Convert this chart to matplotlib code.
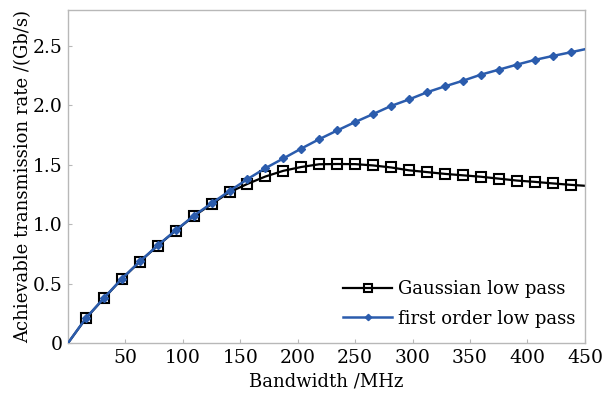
import numpy as np
import matplotlib
matplotlib.use("Agg")
import matplotlib.pyplot as plt
from matplotlib.ticker import FuncFormatter

# bandwidth sample points (MHz), line runs from 0 to 450
bandwidth = [0, 15.625, 31.25, 46.875, 62.5, 78.125, 93.75, 109.375, 125,
             140.625, 156.25, 171.875, 187.5, 203.125, 218.75, 234.375, 250,
             265.625, 281.25, 296.875, 312.5, 328.125, 343.75, 359.375, 375,
             390.625, 406.25, 421.875, 437.5, 450]

gaussian_rate = [0, 0.208, 0.376, 0.539, 0.684, 0.819, 0.945, 1.066, 1.168,
                 1.268, 1.338, 1.400, 1.448, 1.480, 1.503, 1.505, 1.504,
                 1.493, 1.476, 1.452, 1.437, 1.422, 1.410, 1.398, 1.382,
                 1.366, 1.355, 1.342, 1.330, 1.322]

first_order_rate = [0, 0.210, 0.378, 0.541, 0.686, 0.821, 0.947, 1.069, 1.175,
                    1.278, 1.378, 1.470, 1.552, 1.635, 1.714, 1.787, 1.858,
                    1.925, 1.993, 2.048, 2.108, 2.158, 2.205, 2.256, 2.298,
                    2.340, 2.380, 2.413, 2.444, 2.470]

x_ticks = [50, 100, 150, 200, 250, 300, 350, 400, 450]
y_ticks = [0, 0.5, 1.0, 1.5, 2.0, 2.5]

plt.rcParams['font.family'] = ['DejaVu Serif']
fs = 13

fig = plt.figure(figsize=(6.03, 3.93), dpi=100)
ax = fig.add_axes([0.1128, 0.1272, 0.8572, 0.8474])

marks = list(range(1, len(bandwidth) - 1))
ax.plot(bandwidth, gaussian_rate, color="black", lw=1.6, marker="s",
        markersize=6.5, markerfacecolor="none", markeredgewidth=1.5,
        markevery=marks, label="Gaussian low pass", zorder=2)
ax.plot(bandwidth, first_order_rate, color="#2b5cad", lw=1.8, marker="D",
        markersize=4, markevery=marks, label="first order low pass", zorder=3)

ax.set_xlim(0, 450)
ax.set_ylim(0, 2.8)
ax.set_xticks(x_ticks)
ax.set_yticks(y_ticks)
ax.yaxis.set_major_formatter(FuncFormatter(lambda v, p: "0" if v == 0 else f"{v:.1f}"))

for s in ax.spines.values():
    s.set_color("#b8b8b8")
    s.set_linewidth(1.0)
ax.tick_params(direction="in", length=3, color="#b8b8b8", labelsize=13.5, pad=4)

ax.set_xlabel("Bandwidth /MHz", fontsize=fs, labelpad=4)
ax.set_ylabel("Achievable transmission rate /(Gb/s)", fontsize=fs, labelpad=0)

ax.legend(loc="lower right", bbox_to_anchor=(1.0, 0.016), frameon=False,
          fontsize=fs, handlelength=2.7, handletextpad=0.3,
          borderaxespad=0.15, labelspacing=0.65, markerscale=0.8)

fig.savefig("out.png", dpi=100)
